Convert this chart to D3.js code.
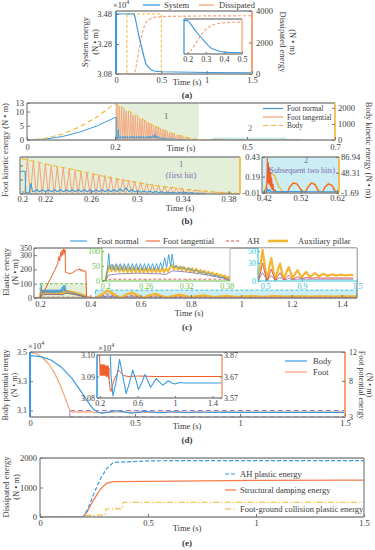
<!DOCTYPE html>
<html><head><meta charset="utf-8">
<script src="https://cdn.jsdelivr.net/npm/d3@7/dist/d3.min.js"></script>
<style>body{margin:0;background:#fff}svg{display:block}</style>
</head><body>
<script>
// ================= DATA =================
// (a) system / dissipated energy
const aTime=[0,0.2,0.21,0.23,0.25,0.27,0.29,0.31,0.33,0.35,0.37,0.38,0.4,0.42,0.45,0.5,1,1.5];
const aSystem=[3.48,3.48,3.46,3.40,3.34,3.29,3.24,3.19,3.15,3.13,3.12,3.11,3.105,3.10,3.098,3.095,3.09,3.088];
const aDissipated=[0,0,150,700,1400,2100,2600,3000,3250,3400,3480,3520,3560,3590,3620,3650,3690,3700];
const aXTicks=[0,0.5,1,1.5], aYTicks=[3.08,3.28,3.48], aY2Ticks=[0,2000,4000], aInXTicks=[0.2,0.3,0.4,0.5];

// (b) kinetic energy
const bBody=[[0,0],[0.04,90],[0.08,360],[0.12,820],[0.16,1450],[0.2,2280],[0.22,1950],[0.25,1500],[0.28,1000],[0.31,620],[0.34,330],[0.37,110],[0.39,30],[0.41,0]];
const bNormalPre=[[0,0],[0.04,0.3],[0.08,1.2],[0.12,2.8],[0.16,5],[0.2,7.9],[0.2025,7.9],[0.203,0.2],[0.206,0.2],[0.2075,3.6],[0.209,0.6]];
const bNormalPeakT=[0.2125,0.2177,0.2229,0.2281,0.2333,0.2385,0.2437,0.2489,0.2541,0.2593,0.2645,0.2697,0.2749,0.2801,0.2853,0.2905,0.2957,0.3009,0.3061,0.3113,0.3165,0.3217,0.3269,0.3321,0.3373,0.3425,0.3477];
const bNormalPeakV=[1.3,1.3,1.3,1.3,1.3,1.3,1.3,1.3,1.3,1.3,1.3,1.3,1.3,1.4,1.6,2.0,1.4,1.1,0.9,0.8,0.7,0.6,0.5,0.4,0.35,0.3,0.25];
const bNormalLowV=[0.6,0.6,0.6,0.6,0.6,0.6,0.6,0.6,0.6,0.6,0.6,0.6,0.6,0.6,0.6,0.7,0.6,0.5,0.45,0.4,0.35,0.3,0.25,0.2,0.18,0.15,0.1];
const bTanPeakT=[0.2045,0.2097,0.2149,0.2201,0.2253,0.2305,0.2357,0.2409,0.2461,0.2513,0.2565,0.2617,0.2669,0.2721,0.2773,0.2825,0.2877,0.2929,0.2981,0.3033,0.3085,0.3137,0.3189,0.3241,0.3293,0.3345,0.3397,0.3449,0.3501,0.3553,0.3605,0.3657,0.3709,0.3761,0.3813];
const bTanPeakV=[12.6,11.9,11.2,10.7,10.2,9.7,9.2,8.8,8.4,8.0,7.6,7.2,6.8,6.4,6.0,5.6,5.2,4.8,4.4,4.0,3.6,3.2,2.9,2.6,2.3,2.0,1.7,1.5,1.3,1.1,0.9,0.7,0.5,0.4,0.3];
const bHitTan=[[0.415,0],[0.426,0],[0.428,0.08],[0.4295,0.42],[0.431,0.12],[0.4325,0.36],[0.434,0.1],[0.4355,0.3],[0.437,0.08],[0.4385,0.24],[0.44,0.05],[0.4415,0.17],[0.443,0.03],[0.445,0.1],[0.447,0.01],[0.45,0.03],[0.455,0],[0.485,0],[0.49,0.06],[0.5,0.11],[0.51,0.1],[0.52,0.04],[0.527,0],[0.535,0],[0.54,0.06],[0.55,0.11],[0.56,0.09],[0.567,0.02],[0.573,0],[0.58,0],[0.586,0.06],[0.596,0.1],[0.606,0.08],[0.612,0.02],[0.618,0],[0.625,0]];
const bHitBody=[[0.415,0],[0.42,0],[0.43,25],[0.44,48],[0.45,40],[0.46,15],[0.47,3],[0.485,0],[0.49,12],[0.5,24],[0.51,22],[0.52,8],[0.53,0],[0.54,12],[0.55,24],[0.56,20],[0.57,5],[0.58,0],[0.586,12],[0.596,22],[0.606,18],[0.615,4],[0.625,0]];
const bHitNormal=[[0.415,0],[0.427,0],[0.43,0.04],[0.432,0.01],[0.436,0.03],[0.44,0.004],[0.5,0.006],[0.55,0.004],[0.625,0.004]];
const bXTicks=[0,0.2,0.5,0.7], bYTicks=[0,5,10,13], bY2Ticks=[0,1000,2000];
const bLLXTicks=[0.2,0.22,0.26,0.3,0.34,0.38], bLRXTicks=[0.42,0.52,0.62], bLRYTicks=[-0.01,0.19,0.43], bLRY2Ticks=[-1.69,48.31,86.94];

// (c) elastic energy
const cTan=[[0.168,0],[0.2,0],[0.22,60],[0.24,130],[0.26,200],[0.27,240],[0.275,290],[0.278,260],[0.282,320],[0.285,290],[0.288,335],[0.29,300],[0.293,345],[0.296,310],[0.299,340],[0.3,330],[0.301,180],[0.31,175],[0.32,170],[0.33,178],[0.34,190],[0.35,200],[0.355,195],[0.358,205],[0.362,190],[0.366,200],[0.37,185],[0.375,192],[0.38,185],[0.382,190],[0.385,0],[1.46,0]];
const cNormal=[[0.168,0],[0.2,0],[0.203,40],[0.205,92],[0.207,40],[0.21,56],[0.213,36],[0.216,58],[0.219,36],[0.222,58],[0.225,36],[0.228,58],[0.231,36],[0.234,58],[0.237,36],[0.24,58],[0.243,36],[0.246,58],[0.249,36],[0.252,58],[0.255,36],[0.258,58],[0.261,36],[0.264,58],[0.267,37],[0.27,58],[0.273,37],[0.276,58],[0.279,37],[0.282,62],[0.285,40],[0.288,78],[0.291,45],[0.294,88],[0.297,50],[0.299,90],[0.302,45],[0.305,50],[0.31,42],[0.315,47],[0.32,38],[0.325,42],[0.33,33],[0.335,37],[0.34,28],[0.345,31],[0.35,23],[0.355,25],[0.36,17],[0.365,19],[0.37,12],[0.375,13],[0.38,6],[0.385,0],[0.42,0],[0.43,4],[0.44,0],[1.46,0]];
const cPillar=[[0.168,0],[0.2,0],[0.203,30],[0.206,52],[0.209,33],[0.212,50],[0.215,32],[0.218,49],[0.221,31],[0.224,48],[0.227,31],[0.23,47],[0.233,30],[0.236,46],[0.239,30],[0.242,46],[0.245,30],[0.248,45],[0.251,30],[0.254,44],[0.257,30],[0.26,44],[0.263,30],[0.266,43],[0.269,30],[0.272,43],[0.275,30],[0.278,42],[0.281,30],[0.284,42],[0.287,30],[0.29,41],[0.293,32],[0.296,45],[0.299,52],[0.302,40],[0.305,50],[0.308,38],[0.311,48],[0.314,36],[0.317,46],[0.32,34],[0.323,44],[0.326,32],[0.329,42],[0.332,30],[0.335,40],[0.338,28],[0.341,37],[0.344,26],[0.347,34],[0.35,24],[0.353,31],[0.356,22],[0.359,28],[0.362,19],[0.365,25],[0.368,16],[0.371,21],[0.374,13],[0.377,18],[0.38,10],[0.383,14],[0.386,5],[0.4,2],[0.42,0],[0.445,25],[0.47,52],[0.5,20],[0.52,1],[0.545,25],[0.565,38],[0.59,15],[0.61,2],[0.635,18],[0.66,29],[0.685,12],[0.705,4],[0.73,15],[0.755,23],[0.78,12],[0.8,5],[0.825,12],[0.85,18],[0.875,11],[0.895,6],[0.92,11],[0.945,15],[0.97,10],[0.99,7],[1.015,10],[1.04,13],[1.065,10],[1.085,8],[1.11,10],[1.135,12],[1.16,10],[1.18,8.5],[1.205,10],[1.23,11],[1.255,10],[1.275,9],[1.3,10],[1.325,10.5],[1.35,10],[1.37,9.3],[1.4,10],[1.42,10.2],[1.46,10]];
const cAH=[[0.168,0],[0.2,0],[0.205,6],[0.3,6],[0.385,6],[0.42,0],[0.445,12],[0.47,30],[0.5,10],[0.52,0],[0.545,10],[0.565,20],[0.59,8],[0.61,1],[0.635,8],[0.66,14],[0.685,6],[0.705,2],[0.73,6],[0.755,10],[0.78,5],[0.8,3],[0.85,7],[0.9,4],[0.95,6],[1.0,4.5],[1.05,5.5],[1.1,5],[1.46,5]];
const cOther=[[0.168,0],[0.2,0],[0.205,20],[0.22,24],[0.25,26],[0.28,24],[0.29,22],[0.3,34],[0.32,30],[0.34,24],[0.36,16],[0.38,8],[0.386,0],[0.42,0],[0.47,14],[0.52,1],[0.565,9],[0.61,1],[0.66,6],[0.705,2],[0.755,4],[0.8,2],[0.85,3],[1.46,3]];
const cXTicks=[0.2,0.4,0.6,0.8,1,1.2,1.4], cYTicks=[0,100,200,300,350];
const cGXTicks=[0.2,0.26,0.32,0.38], cGYTicks=[0,50,100], cCXTicks=[0.5,0.9,1.5], cCYTicks=[0,30,50];

// (d) potential energy
const dBody=[[0,3.475],[0.05,3.468],[0.1,3.445],[0.15,3.395],[0.2,3.32],[0.25,3.215],[0.28,3.15],[0.3,3.112],[0.32,3.09],[0.34,3.081],[0.375,3.088],[0.41,3.098],[0.445,3.09],[0.48,3.082],[0.515,3.087],[0.55,3.093],[0.58,3.089],[0.61,3.084],[0.645,3.087],[0.68,3.091],[0.71,3.088],[0.74,3.085],[0.77,3.087],[0.8,3.089],[0.835,3.0875],[0.87,3.086],[0.9,3.087],[0.93,3.088],[0.965,3.087],[1.0,3.0865],[1.05,3.0872],[1.1,3.087],[1.5,3.087]];
const dFoot=[[0,11.9],[0.03,11.8],[0.06,11.2],[0.09,10.3],[0.12,8.9],[0.15,7.0],[0.17,5.4],[0.19,3.9],[0.2,3.72],[0.204,3.675],[0.208,3.725],[0.212,3.675],[0.216,3.725],[0.22,3.675],[0.224,3.725],[0.228,3.675],[0.232,3.725],[0.236,3.675],[0.24,3.725],[0.244,3.675],[0.248,3.725],[0.252,3.675],[0.256,3.72],[0.26,3.675],[0.264,3.72],[0.268,3.67],[0.272,3.72],[0.276,3.67],[0.28,3.72],[0.284,3.67],[0.288,3.72],[0.292,3.66],[0.296,3.71],[0.3,3.65],[0.31,3.61],[0.32,3.6],[0.33,3.62],[0.35,3.65],[0.38,3.68],[0.4,3.70],[0.42,3.69],[0.45,3.675],[0.5,3.67],[0.6,3.672],[0.8,3.67],[1.5,3.67]];
const dRefLevels=[3.099,3.056];
const dXTicks=[0,0.5,1,1.5], dYTicks=[3.1,3.3,3.5], dY2Ticks=[3,8,12];
const dInXTicks=[0.2,0.6,1,1.4], dInYTicks=[3.08,3.09,3.10], dInY2Ticks=[3.57,3.67,3.77], dInY2Labels=['3.57','3.67','3.87'];

// (e) dissipated energy
const eAH=[[0,0],[0.2,0],[0.22,250],[0.25,800],[0.28,1300],[0.31,1650],[0.34,1850],[0.4,1870],[0.5,1900],[0.6,1910],[1.5,1910]];
const eDamping=[[0,0],[0.2,0],[0.22,200],[0.25,600],[0.28,950],[0.31,1150],[0.34,1200],[0.5,1210],[1,1240],[1.5,1250]];
const eFoot=[[0,0],[0.2,0],[0.21,50],[0.3,70],[0.305,270],[0.38,280],[0.385,500],[1.5,500]];
const eXTicks=[0,0.5,1,1.5], eYTicks=[0,1000,2000];

// ================= DRAWING =================
const F="'Liberation Serif','Times New Roman',serif";
const C={blue:'#3c9ade',orange:'#f7a278',red:'#f0602c',yellow:'#f2b632',gray:'#8a8a8a',purple:'#7d6bb0',green:'#6cbf4a',cyan:'#35c3da',gFill:'#e3efd9',cFill:'#cbedf3',text:'#3a3a3a',dpurple:'#6e5a9e'};
const svg=d3.select('body').append('svg').attr('width',375).attr('height',550).style('font-family',F);
svg.append('rect').attr('width',375).attr('height',550).attr('fill','#fff');
let clipN=0;
function clip(x0,y0,x1,y1){const id='c'+(clipN++);svg.append('clipPath').attr('id',id).append('rect').attr('x',x0).attr('y',y0).attr('width',x1-x0).attr('height',y1-y0);return `url(#${id})`;}
function line(data,xs,ys,o){const g=d3.line().x(d=>xs(d[0])).y(d=>ys(d[1]));return svg.append('path').attr('d',g(data)).attr('fill','none').attr('stroke',o.c).attr('stroke-width',o.w||1).attr('stroke-dasharray',o.dash||null).attr('clip-path',o.clip||null).attr('stroke-linejoin','round').attr('opacity',o.op||1);}
function text(x,y,s,o={}){const t=svg.append('text').attr('x',x).attr('y',y).text(s).attr('font-size',o.fs||8.5).attr('fill',o.c||C.text).attr('text-anchor',o.a||'middle').attr('font-weight',o.b?'bold':null);if(o.rot)t.attr('transform',`rotate(${o.rot},${x},${y})`);return t;}
function ax(gen,tx,ty,o={}){const g=svg.append('g').attr('transform',`translate(${tx},${ty})`).call(gen);g.select('.domain').remove();g.selectAll('.tick line').attr('stroke',o.tc||'#777');g.selectAll('.tick text').attr('font-family',F).attr('font-size',o.fs||8.5).attr('fill',o.c||C.text);return g;}
function seg(x1,y1,x2,y2,c,w,dash){svg.append('line').attr('x1',x1).attr('y1',y1).attr('x2',x2).attr('y2',y2).attr('stroke',c).attr('stroke-width',w||1).attr('stroke-dasharray',dash||null);}
function box(x0,y0,x1,y1,o={}){seg(x0,y0,x1,y0,o.top||C.gray,o.w||1.3);seg(x0,y1,x1,y1,o.bottom||C.gray,o.w||1.3);seg(x0,y0,x0,y1,o.left||C.gray,o.lw||o.w||1.3);seg(x1,y0,x1,y1,o.right||C.gray,o.rw||o.w||1.3);}
function x10(x,y){const t=svg.append('text').attr('x',x).attr('y',y).attr('font-size',8.5).attr('fill',C.text);t.append('tspan').text('×10');t.append('tspan').text('4').attr('font-size',6).attr('dy',-4);}
function spikes(T,V,hw,base){const o=[];T.forEach((t,i)=>{o.push([t-hw,base],[t,V[i]],[t+hw,base]);});return o;}
function zig(T,Lo,Hi,hw){const o=[];T.forEach((t,i)=>{o.push([t-hw,Lo[i]],[t,Hi[i]]);});return o;}
const fmt=d=>String(d);

// ---------- (a) ----------
{
const X0=116,X1=252,Y0=11,Y1=74;
const x=d3.scaleLinear().domain([0,1.5]).range([X0,X1]);
const y=d3.scaleLinear().domain([3.08,3.5]).range([Y1,Y0]);
const y2=d3.scaleLinear().domain([0,4000]).range([Y1,Y0]);
svg.append('rect').attr('x',x(0.12)).attr('y',y(3.48)).attr('width',x(0.5)-x(0.12)).attr('height',Y1-y(3.48)).attr('fill','none').attr('stroke',C.yellow).attr('stroke-width',1).attr('stroke-dasharray','3,2');
const cl=clip(X0,Y0,X1,Y1);
line(d3.zip(aTime,aDissipated),x,y2,{c:C.orange,w:1.2,dash:'3,2',clip:cl});
line(d3.zip(aTime,aSystem),x,y,{c:C.blue,w:1.2,clip:cl});
box(X0,Y0,X1,Y1,{left:C.blue,right:C.orange,lw:2,rw:2});
ax(d3.axisBottom(x).tickValues(aXTicks).tickSize(-3).tickPadding(3).tickFormat(fmt),0,Y1);
ax(d3.axisLeft(y).tickValues(aYTicks).tickSize(-3).tickPadding(4).tickFormat(d3.format('.2f')),X0,0);
ax(d3.axisRight(y2).tickValues(aY2Ticks).tickSize(-3).tickPadding(4).tickFormat(fmt),X1,0);
const IX0=184,IX1=242,IY0=19,IY1=54;
const xi=d3.scaleLinear().domain([0.18,0.5]).range([IX0,IX1]);
const yi=d3.scaleLinear().domain([3.08,3.5]).range([IY1,IY0]);
const yi2=d3.scaleLinear().domain([0,4000]).range([IY1,IY0]);
svg.append('rect').attr('x',IX0).attr('y',IY0).attr('width',IX1-IX0).attr('height',IY1-IY0).attr('fill','#fff');
const ci=clip(IX0,IY0,IX1,IY1);
line(d3.zip(aTime,aDissipated),xi,yi2,{c:C.orange,w:1.1,dash:'3,2',clip:ci});
line(d3.zip(aTime,aSystem),xi,yi,{c:C.blue,w:1.1,clip:ci});
box(IX0,IY0,IX1,IY1,{left:C.blue,right:C.orange,w:1.3});
ax(d3.axisBottom(xi).tickValues(aInXTicks).tickSize(-2).tickPadding(2).tickFormat(fmt),0,IY1,{fs:8});
x10(113,8);
seg(143,5,160,5,C.blue,1.3);text(164,8,'System',{a:'start'});
seg(199,5,214,5,C.orange,1.3);text(219,8,'Dissipated',{a:'start'});
text(187,85,'Time (s)');
text(88,42,'System energy',{rot:-90});text(98,42,'(N • m)',{rot:-90});
text(280,42,'Dissipated energy',{rot:90});text(290,42,'(N • m)',{rot:90});
text(187,98,'(a)',{b:true,fs:9});
}

// ---------- (b) top ----------
{
const X0=27,X1=335,Y0=103,Y1=140;
const x=d3.scaleLinear().domain([0,0.7]).range([X0,X1]);
const y=d3.scaleLinear().domain([0,13]).range([Y1,Y0]);
const y2=d3.scaleLinear().domain([0,2300]).range([Y1,Y0]);
svg.append('rect').attr('x',x(0.2)).attr('y',Y0).attr('width',x(0.39)-x(0.2)).attr('height',Y1-Y0).attr('fill',C.gFill);
svg.append('rect').attr('x',x(0.42)).attr('y',y(0.9)).attr('width',x(0.59)-x(0.42)).attr('height',Y1-y(0.9)).attr('fill',C.cFill);
const cl=clip(X0,Y0-2,X1,Y1);
line(spikes(bTanPeakT,bTanPeakV,0.0024,0),x,y,{c:C.orange,w:0.9,clip:cl});
line(bHitTan,x,y,{c:C.orange,w:0.9,clip:cl});
line(bNormalPre.concat(zig(bNormalPeakT,bNormalLowV,bNormalPeakV,0.0026),[[0.35,0.1],[0.36,0]]),x,y,{c:C.blue,w:1,clip:cl});
line(bHitNormal,x,y,{c:C.blue,w:1,clip:cl});
line(bBody.concat(bHitBody.slice(2)),x,y2,{c:C.yellow,w:1.1,dash:'5,3',clip:cl});
box(X0,Y0,X1,Y1,{right:C.yellow,rw:1.6});
ax(d3.axisBottom(x).tickValues(bXTicks).tickSize(-3).tickPadding(4).tickFormat(fmt),0,Y1);
ax(d3.axisLeft(y).tickValues(bYTicks).tickSize(-3).tickPadding(3).tickFormat(fmt),X0,0);
ax(d3.axisRight(y2).tickValues(bY2Ticks).tickSize(-3).tickPadding(3).tickFormat(fmt),X1,0);
text(166,119,'1',{c:'#666'});text(250,131,'2',{c:'#666'});
seg(263,108.5,283,108.5,C.blue,1.2);text(287,111,'Foot normal',{a:'start',fs:7.4});
seg(263,117,283,117,C.orange,1.2);text(287,119.5,'Foot tangential',{a:'start',fs:7.4});
seg(263,125.5,283,125.5,C.yellow,1.2,'5,3');text(287,128,'Body',{a:'start',fs:7.4});
text(181,151,'Time (s)');
}
// ---------- (b) lower-left ----------
{
const X0=20,X1=240,Y0=157,Y1=194;
const x=d3.scaleLinear().domain([0.198,0.39]).range([X0,X1]);
const y=d3.scaleLinear().domain([-0.2,13]).range([Y1,Y0]);
const y2=d3.scaleLinear().domain([0,2400]).range([Y1,Y0]);
svg.append('rect').attr('x',X0).attr('y',Y0).attr('width',X1-X0).attr('height',Y1-Y0).attr('fill',C.gFill);
const cl=clip(X0,Y0,X1,Y1);
line(spikes(bTanPeakT,bTanPeakV,0.0024,0),x,y,{c:C.orange,w:1,clip:cl});
line(bNormalPre.concat(zig(bNormalPeakT,bNormalLowV,bNormalPeakV,0.0026),[[0.35,0.1],[0.36,0]]),x,y,{c:C.blue,w:1.1,clip:cl});
line(bBody,x,y2,{c:C.yellow,w:1.1,dash:'5,3',clip:cl});
box(X0,Y0,X1,Y1,{right:C.yellow,rw:1.6});
ax(d3.axisBottom(x).tickValues(bLLXTicks).tickSize(-3).tickPadding(2).tickFormat(fmt),0,Y1);
ax(d3.axisLeft(y).tickValues([0,5,10]).tickSize(-3).tickFormat(()=>''),X0,0);
text(181,167,'1',{c:C.purple});text(181,178,'(first hit)',{c:C.purple});
text(180,211,'Time (s)');
text(187,224,'(b)',{b:true,fs:9});
text(8,150,'Foot kinetic energy (N • m)',{rot:-90});
text(366,150,'Body kinetic energy (N • m)',{rot:90});
}
// ---------- (b) lower-right ----------
{
const X0=262,X1=339,Y0=157,Y1=193;
const x=d3.scaleLinear().domain([0.415,0.625]).range([X0,X1]);
const y=d3.scaleLinear().domain([-0.01,0.43]).range([Y1,Y0]);
const y2=d3.scaleLinear().domain([-1.69,86.94]).range([Y1,Y0]);
svg.append('rect').attr('x',X0).attr('y',Y0).attr('width',X1-X0).attr('height',Y1-Y0).attr('fill',C.cFill);
const cl=clip(X0,Y0,X1,Y1);
line(bHitBody,x,y2,{c:C.yellow,w:1.3,clip:cl});
line(bHitTan,x,y,{c:C.red,w:1.1,clip:cl});
line(bHitNormal,x,y,{c:C.blue,w:1.2,clip:cl});
box(X0,Y0,X1,Y1,{right:C.yellow,rw:1.6});
ax(d3.axisBottom(x).tickValues(bLRXTicks).tickSize(-3).tickPadding(2).tickFormat(fmt),0,Y1);
ax(d3.axisLeft(y).tickValues(bLRYTicks).tickSize(-3).tickPadding(2).tickFormat(fmt),X0,0);
ax(d3.axisRight(y2).tickValues(bLRY2Ticks).tickSize(-3).tickPadding(2).tickFormat(fmt),X1,0);
text(306,163,'2',{c:C.purple});text(301,173,'(Subsequent two hits)',{c:C.purple,fs:7.8});
}

// ---------- (c) ----------
{
const X0=34,X1=357,Y0=248,Y1=298;
const x=d3.scaleLinear().domain([0.176,1.46]).range([X0,X1]);
const y=d3.scaleLinear().domain([0,350]).range([Y1,Y0]);
svg.append('rect').attr('x',x(0.2)).attr('y',y(100)).attr('width',x(0.385)-x(0.2)).attr('height',Y1-y(100)).attr('fill',C.gFill).attr('stroke',C.green).attr('stroke-dasharray','3,2');
svg.append('rect').attr('x',x(0.42)).attr('y',y(55)).attr('width',X1-x(0.42)).attr('height',Y1-y(55)).attr('fill',C.cFill).attr('stroke',C.cyan).attr('stroke-dasharray','3,2');
const cl=clip(X0,Y0,X1,Y1);
line(cPillar,x,y,{c:C.yellow,w:2.4,clip:cl});
line(cNormal,x,y,{c:C.blue,w:0.9,clip:cl});
line(cOther,x,y,{c:C.dpurple,w:0.8,clip:cl});
line(cAH,x,y,{c:'#d9534f',w:0.9,dash:'3,2',clip:cl});
line(cTan,x,y,{c:C.red,w:1,clip:cl});
box(X0,Y0,X1,Y1);
ax(d3.axisBottom(x).tickValues(cXTicks).tickSize(-3).tickPadding(3).tickFormat(fmt),0,Y1);
ax(d3.axisLeft(y).tickValues(cYTicks).tickSize(-3).tickPadding(2).tickFormat(fmt),X0,0,{fs:8});
const GX0=102,GX1=230,GY0=248,GY1=281;
const xg=d3.scaleLinear().domain([0.195,0.385]).range([GX0,GX1]);
const yg=d3.scaleLinear().domain([0,110]).range([GY1,GY0]);
svg.append('rect').attr('x',GX0).attr('y',GY0).attr('width',GX1-GX0).attr('height',GY1-GY0).attr('fill','#fff');
const cg=clip(GX0,GY0,GX1,GY1);
line(cPillar,xg,yg,{c:C.yellow,w:2.2,clip:cg});
line(cNormal,xg,yg,{c:C.blue,w:0.9,clip:cg});
line(cOther,xg,yg,{c:C.dpurple,w:0.7,clip:cg});
line(cAH,xg,yg,{c:'#d9534f',w:0.9,dash:'3,2',clip:cg});
box(GX0,GY0,GX1,GY1,{left:C.green,bottom:C.green,top:'#bbb',right:'#bbb',w:1.1});
ax(d3.axisBottom(xg).tickValues(cGXTicks).tickSize(-2).tickPadding(2).tickFormat(fmt),0,GY1,{c:C.green,tc:C.green,fs:8});
ax(d3.axisLeft(yg).tickValues(cGYTicks).tickSize(-2).tickPadding(2).tickFormat(fmt),GX0,0,{c:C.green,tc:C.green,fs:8});
const KX0=258,KX1=357,KY0=248,KY1=281;
const xk=d3.scaleLinear().domain([0.42,1.5]).range([KX0,KX1]);
const yk=d3.scaleLinear().domain([0,55]).range([KY1,KY0]);
svg.append('rect').attr('x',KX0).attr('y',KY0).attr('width',KX1-KX0).attr('height',KY1-KY0).attr('fill','#fff');
const ck=clip(KX0,KY0,KX1,KY1);
line(cPillar,xk,yk,{c:C.yellow,w:2.2,clip:ck});
line(cOther,xk,yk,{c:C.dpurple,w:0.7,clip:ck});
line(cAH,xk,yk,{c:'#d9534f',w:0.9,clip:ck});
box(KX0,KY0,KX1,KY1,{left:C.cyan,bottom:C.cyan,top:'#bbb',right:'#bbb',w:1.1});
ax(d3.axisBottom(xk).tickValues(cCXTicks).tickSize(-2).tickPadding(2).tickFormat(fmt),0,KY1,{c:C.cyan,tc:C.cyan,fs:8});
ax(d3.axisLeft(yk).tickValues(cCYTicks).tickSize(-2).tickPadding(2).tickFormat(fmt),KX0,0,{c:C.cyan,tc:C.cyan,fs:8});
seg(70,241,87,241,C.blue,1.1);text(97,244,'Foot normal',{a:'start'});
seg(146,241,160,241,C.red,1.1);text(163,244,'Foot tangential',{a:'start'});
seg(226,241,241,241,'#d9534f',1.1,'3,2');text(247,244,'AH',{a:'start'});
seg(268,241,288,241,C.yellow,2.6);text(298,244,'Auxiliary pillar',{a:'start'});
text(189,316,'Time (s)');
text(187,330,'(c)',{b:true,fs:9});
text(9,272,'Elastic energy',{rot:-90});text(18,272,'(N • m)',{rot:-90});
}

// ---------- (d) ----------
{
const X0=30,X1=345,Y0=352,Y1=417;
const x=d3.scaleLinear().domain([0,1.5]).range([X0,X1]);
const y=d3.scaleLinear().domain([3.055,3.5]).range([Y1,Y0]);
const y2=d3.scaleLinear().domain([3,12]).range([Y1,Y0]);
const cl=clip(X0,Y0,X1,Y1);
dRefLevels.forEach(v=>seg(x(0.19),y(v),X1,y(v),'#9b7fd4',1.1,'5,3'));
seg(x(0.19),y(dRefLevels[0]),x(0.19),y(dRefLevels[1]),'#9b7fd4',1);
line(dFoot,x,y2,{c:C.orange,w:1.2,clip:cl});
line(dBody,x,y,{c:C.blue,w:1.2,clip:cl});
box(X0,Y0,X1,Y1,{left:C.blue,right:C.orange,lw:2,rw:2});
ax(d3.axisBottom(x).tickValues(dXTicks).tickSize(-3).tickPadding(3).tickFormat(fmt),0,Y1);
ax(d3.axisLeft(y).tickValues(dYTicks).tickSize(-3).tickPadding(3).tickFormat(fmt),X0,0,{fs:8});
ax(d3.axisRight(y2).tickValues(dY2Ticks).tickSize(-3).tickPadding(4).tickFormat(fmt),X1,0,{fs:8});
x10(28,349);
const IX0=97,IX1=222,IY0=355,IY1=398;
const xi=d3.scaleLinear().domain([0.17,1.5]).range([IX0,IX1]);
const yi=d3.scaleLinear().domain([3.08,3.10]).range([IY1,IY0]);
const yi2=d3.scaleLinear().domain([3.57,3.77]).range([IY1,IY0]);
svg.append('rect').attr('x',IX0).attr('y',IY0).attr('width',IX1-IX0).attr('height',IY1-IY0).attr('fill','#fff');
const ci=clip(IX0,IY0,IX1,IY1);
line(dFoot,xi,yi2,{c:C.red,w:1,clip:ci});
line(dBody,xi,yi,{c:C.blue,w:1.1,clip:ci});
box(IX0,IY0,IX1,IY1,{left:C.blue,right:C.orange,lw:1.6,rw:1.6});
ax(d3.axisBottom(xi).tickValues(dInXTicks).tickSize(-2).tickPadding(2).tickFormat(fmt),0,IY1,{fs:8});
ax(d3.axisLeft(yi).tickValues(dInYTicks).tickSize(-2).tickPadding(2).tickFormat(d3.format('.2f')),IX0,0,{fs:8});
ax(d3.axisRight(yi2).tickValues(dInY2Ticks).tickSize(-2).tickPadding(2).tickFormat((d,i)=>dInY2Labels[i]),IX1,0,{fs:8});
x10(98,351);
seg(285,361,307,361,C.blue,1.2);text(313,364,'Body',{a:'start'});
seg(285,372,307,372,C.orange,1.2);text(313,375,'Foot',{a:'start'});
text(187,429,'Time (s)');
text(187,443,'(d)',{b:true,fs:9});
text(8,385,'Body potential energy',{rot:-90,fs:8});text(16.5,385,'(N • m)',{rot:-90,fs:8});
text(359,385,'Foot potential energy',{rot:90,fs:8});text(367,385,'(N • m)',{rot:90,fs:8});
}

// ---------- (e) ----------
{
const X0=40,X1=364,Y0=458,Y1=517;
const x=d3.scaleLinear().domain([0,1.5]).range([X0,X1]);
const y=d3.scaleLinear().domain([0,2000]).range([Y1,Y0]);
const cl=clip(X0,Y0-2,X1,Y1);
line(eFoot,x,y,{c:C.yellow,w:1.1,dash:'6,2,1.5,2',clip:cl});
line(eDamping,x,y,{c:'#f47c4c',w:1.3,clip:cl});
line(eAH,x,y,{c:C.blue,w:1.2,dash:'4,2',clip:cl});
box(X0,Y0,X1,Y1);
ax(d3.axisBottom(x).tickValues(eXTicks).tickSize(-3).tickPadding(3).tickFormat(fmt),0,Y1);
ax(d3.axisLeft(y).tickValues(eYTicks).tickSize(-3).tickPadding(3).tickFormat(fmt),X0,0);
seg(225,474,236,474,C.blue,1.2,'4,2');text(240,477,'AH plastic energy',{a:'start'});
seg(225,490,236,490,'#f47c4c',1.3);text(240,493,'Structural damping energy',{a:'start'});
seg(225,509,236,509,C.yellow,1.1,'6,2,1.5,2');text(240,512,'Foot-ground collision plastic energy',{a:'start'});
text(187,531,'Time (s)');
text(187,546,'(e)',{b:true,fs:9});
text(9,487,'Dissipated energy',{rot:-90});text(19,487,'(N • m)',{rot:-90});
}
</script>
</body></html>
